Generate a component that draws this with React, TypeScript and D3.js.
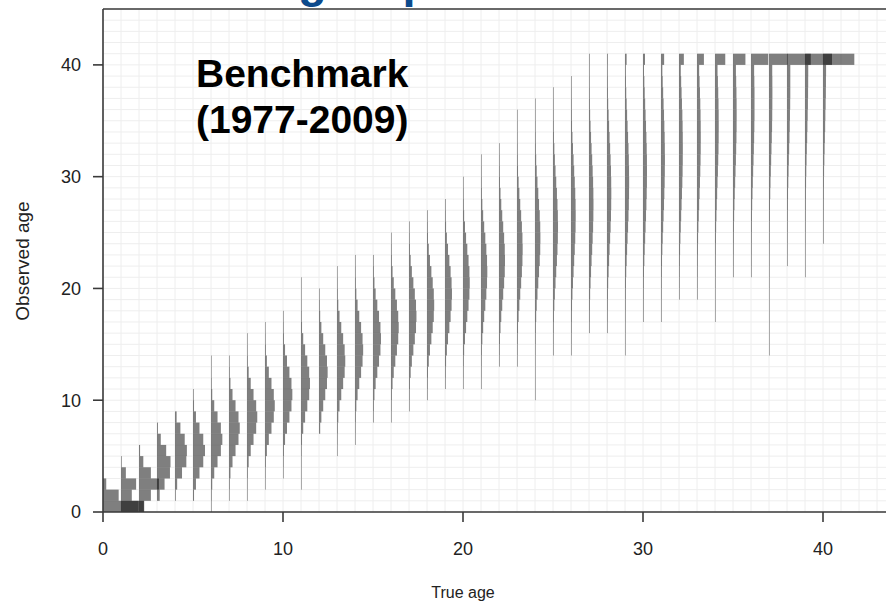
import * as d3 from "d3";

const WIDTH = 886;
const HEIGHT = 606;
const MARGIN = { top: 9, left: 103, bottom: 94 };
const X_MAX = 43.5;
const Y_MAX = 45;
// one unit of probability is drawn 3 age units wide
const WIDTH_SCALE = 3;

const xTicks = [0, 10, 20, 30, 40];
const yTicks = [0, 10, 20, 30, 40];

// lowest observed age drawn for each true age (0..40)
const lowestObserved = [
  0, 0, 0, 1, 1, 1, 0, 1, 1, 2, 3, 2, 7, 5, 6, 8, 8, 9, 10, 11, 11, 11, 13, 13,
  10, 14, 14, 16, 16, 14, 17, 17, 19, 19, 17, 21, 21, 14, 22, 21, 24,
];

// probability (per mille) of each observed age, starting at lowestObserved; last age 40 is the plus group
const probPerMille = [
  [660, 290, 60],
  [430, 200, 280, 90, 5],
  [90, 220, 370, 220, 80, 20],
  [50, 140, 240, 250, 170, 70, 15],
  [8, 40, 130, 210, 220, 180, 100, 30],
  [19, 55, 120, 190, 222, 190, 120, 55, 19, 5],
  [1, 7, 23, 60, 121, 183, 210, 183, 121, 60, 23, 7, 1, 1],
  [2, 9, 27, 65, 121, 176, 199, 176, 121, 65, 27, 9, 2],
  [1, 3, 11, 31, 69, 121, 170, 190, 170, 121, 69, 31, 11, 3, 1],
  [1, 4, 14, 35, 71, 120, 163, 181, 163, 120, 71, 35, 14, 4, 1],
  [2, 6, 16, 38, 74, 119, 157, 173, 157, 119, 74, 38, 16, 6, 2],
  [1, 1, 2, 7, 19, 41, 76, 117, 152, 166, 152, 117, 76, 41, 19, 7, 2, 1, 1],
  [22, 44, 78, 116, 148, 160, 148, 116, 78, 44, 22, 9, 3],
  [1, 4, 11, 24, 47, 79, 114, 142, 153, 142, 114, 79, 47, 24, 11, 4, 1],
  [2, 5, 12, 25, 48, 79, 113, 140, 151, 140, 113, 79, 48, 25, 12, 5, 2],
  [5, 13, 27, 49, 80, 112, 138, 148, 138, 112, 80, 49, 27, 13, 5],
  [2, 6, 14, 29, 51, 80, 110, 134, 143, 134, 110, 80, 51, 29, 14, 6, 2],
  [3, 7, 16, 31, 53, 81, 108, 130, 138, 130, 108, 81, 53, 31, 16, 7, 3],
  [4, 9, 18, 33, 55, 81, 106, 126, 133, 126, 106, 81, 55, 33, 18, 9, 4],
  [5, 10, 20, 35, 56, 81, 104, 122, 129, 122, 104, 81, 56, 35, 20, 10, 5],
  [2, 5, 11, 21, 37, 57, 80, 103, 119, 125, 119, 103, 80, 57, 37, 21, 11, 5, 2],
  [2, 4, 7, 14, 25, 40, 59, 80, 99, 112, 117, 112, 99, 80, 59, 40, 25, 14, 7, 4, 2],
  [5, 9, 17, 28, 42, 60, 78, 95, 107, 111, 107, 95, 78, 60, 42, 28, 17, 9, 5, 2],
  [3, 6, 11, 19, 30, 44, 60, 77, 91, 101, 105, 101, 91, 77, 60, 44, 30, 19, 11, 6, 3, 2, 1],
  [1, 1, 1, 2, 4, 8, 13, 22, 32, 46, 61, 75, 88, 97, 100, 97, 88, 75, 61, 46, 32, 22, 13, 8, 4, 2, 1],
  [4, 6, 10, 16, 25, 35, 47, 60, 73, 83, 90, 93, 90, 83, 73, 60, 47, 35, 25, 16, 10, 6, 4, 2],
  [3, 5, 8, 13, 19, 27, 37, 48, 59, 70, 79, 85, 87, 85, 79, 70, 59, 48, 37, 27, 19, 13, 8, 5, 3],
  [6, 9, 14, 21, 29, 38, 48, 59, 68, 76, 81, 83, 81, 76, 68, 59, 48, 38, 29, 21, 14, 9, 6, 4, 5],
  [4, 7, 11, 16, 22, 30, 39, 48, 58, 67, 74, 78, 80, 78, 74, 67, 58, 48, 39, 30, 22, 16, 11, 7, 10],
  [1, 2, 3, 5, 8, 12, 17, 23, 31, 39, 48, 57, 65, 71, 75, 77, 75, 71, 65, 57, 48, 39, 31, 23, 17, 12, 30],
  [4, 6, 9, 13, 18, 25, 32, 40, 48, 56, 63, 69, 73, 74, 73, 69, 63, 56, 48, 40, 32, 25, 18, 37],
  [3, 4, 7, 10, 14, 19, 25, 32, 40, 48, 56, 62, 68, 71, 73, 71, 68, 62, 56, 48, 40, 32, 25, 58],
  [5, 7, 10, 14, 20, 26, 33, 40, 48, 55, 62, 67, 70, 71, 70, 67, 62, 55, 48, 40, 33, 90],
  [3, 5, 8, 11, 15, 20, 26, 33, 40, 48, 55, 61, 66, 69, 70, 69, 66, 61, 55, 48, 40, 128],
  [1, 2, 2, 4, 6, 8, 11, 16, 21, 27, 33, 40, 47, 54, 60, 65, 68, 69, 68, 65, 60, 54, 47, 190],
  [4, 6, 9, 12, 16, 21, 27, 33, 40, 47, 54, 59, 64, 67, 68, 67, 64, 59, 54, 230],
  [3, 5, 7, 9, 13, 17, 22, 28, 34, 40, 47, 53, 58, 62, 65, 65, 65, 62, 58, 320],
  [1, 1, 1, 1, 1, 1, 2, 3, 4, 5, 8, 10, 14, 18, 23, 28, 34, 40, 46, 52, 57, 60, 62, 63, 62, 60, 345],
  [3, 4, 6, 8, 11, 15, 19, 24, 29, 34, 40, 46, 51, 55, 59, 61, 61, 61, 440],
  [2, 2, 3, 5, 7, 9, 12, 15, 20, 24, 29, 34, 40, 45, 50, 54, 57, 59, 60, 500],
  [4, 5, 7, 10, 13, 16, 20, 25, 30, 35, 40, 44, 49, 53, 55, 57, 580],
];

const FONT = "'Liberation Sans', Arial, sans-serif";

export default function App() {
  const xScale = d3
    .scaleLinear()
    .domain([0, X_MAX])
    .range([MARGIN.left, MARGIN.left + X_MAX * 18]);
  const yScale = d3
    .scaleLinear()
    .domain([0, Y_MAX])
    .range([HEIGHT - MARGIN.bottom, MARGIN.top]);

  const plotRight = WIDTH;
  const plotBottom = yScale(0);

  // light grid at every age
  const vGrid = d3.range(0, Math.floor(X_MAX) + 1).map((v) => (
    <line key={"v" + v} x1={xScale(v)} x2={xScale(v)} y1={MARGIN.top} y2={plotBottom} stroke="#eeeeee" />
  ));
  const hGrid = d3.range(0, Y_MAX + 1).map((v) => (
    <line key={"h" + v} x1={MARGIN.left} x2={plotRight} y1={yScale(v)} y2={yScale(v)} stroke="#eeeeee" />
  ));

  // one step-shaped column of bars per true age
  const bars = probPerMille.flatMap((col, age) =>
    col.map((p, i) => {
      const obs = lowestObserved[age] + i;
      const x0 = xScale(age);
      const w = xScale(age + (p / 1000) * WIDTH_SCALE) - x0;
      // hairline for tiny probabilities, lighter like the thin polygon edge
      const thin = w < 1;
      return (
        <rect
          key={age + "-" + obs}
          x={x0}
          y={yScale(obs + 1)}
          width={thin ? 1 : w}
          height={yScale(obs) - yScale(obs + 1)}
          fill="#000"
          fillOpacity={thin ? 0.3 + 0.2 * w : 0.5}
        />
      );
    })
  );

  return (
    <svg
      width={WIDTH}
      height={HEIGHT}
      style={{ position: "absolute", left: 0, top: 0, background: "#fff" }}
    >
      <text y={-3} fontFamily={FONT} fontWeight="bold" fontSize={47} fill="#0d4a8c">
        <tspan x={141}>Reader</tspan>
        <tspan x={298}>group</tspan>
      </text>
      {vGrid}
      {hGrid}
      {bars}

      {/* frame and axes */}
      <line x1={MARGIN.left} x2={plotRight} y1={MARGIN.top} y2={MARGIN.top} stroke="#3a3a3a" strokeWidth={1.6} />
      <line x1={MARGIN.left} x2={MARGIN.left} y1={MARGIN.top} y2={plotBottom} stroke="#3a3a3a" strokeWidth={1.6} />
      <line x1={MARGIN.left} x2={plotRight} y1={plotBottom} y2={plotBottom} stroke="#3a3a3a" strokeWidth={1.6} />

      {xTicks.map((t) => (
        <g key={"xt" + t}>
          <line x1={xScale(t)} x2={xScale(t)} y1={plotBottom} y2={plotBottom + 10} stroke="#3a3a3a" strokeWidth={1.6} />
          <text x={xScale(t)} y={plotBottom + 43} textAnchor="middle" fontFamily={FONT} fontSize={18} fill="#222">
            {t}
          </text>
        </g>
      ))}
      {yTicks.map((t) => (
        <g key={"yt" + t}>
          <line x1={MARGIN.left - 10} x2={MARGIN.left} y1={yScale(t)} y2={yScale(t)} stroke="#3a3a3a" strokeWidth={1.6} />
          <text x={MARGIN.left - 22} y={yScale(t)} dy="0.35em" textAnchor="end" fontFamily={FONT} fontSize={18} fill="#222">
            {t}
          </text>
        </g>
      ))}

      <text x={xScale(20)} y={598} textAnchor="middle" fontFamily={FONT} fontSize={16} fill="#222">
        True age
      </text>
      <text
        transform={`translate(29,${261}) rotate(-90)`}
        textAnchor="middle"
        fontFamily={FONT}
        fontSize={19}
        fill="#222"
      >
        Observed age
      </text>

      <text fontFamily={FONT} fontWeight="bold" fontSize={39} fill="#000">
        <tspan x={196} y={87}>Benchmark</tspan>
        <tspan x={196} y={133}>(1977-2009)</tspan>
      </text>
    </svg>
  );
}
